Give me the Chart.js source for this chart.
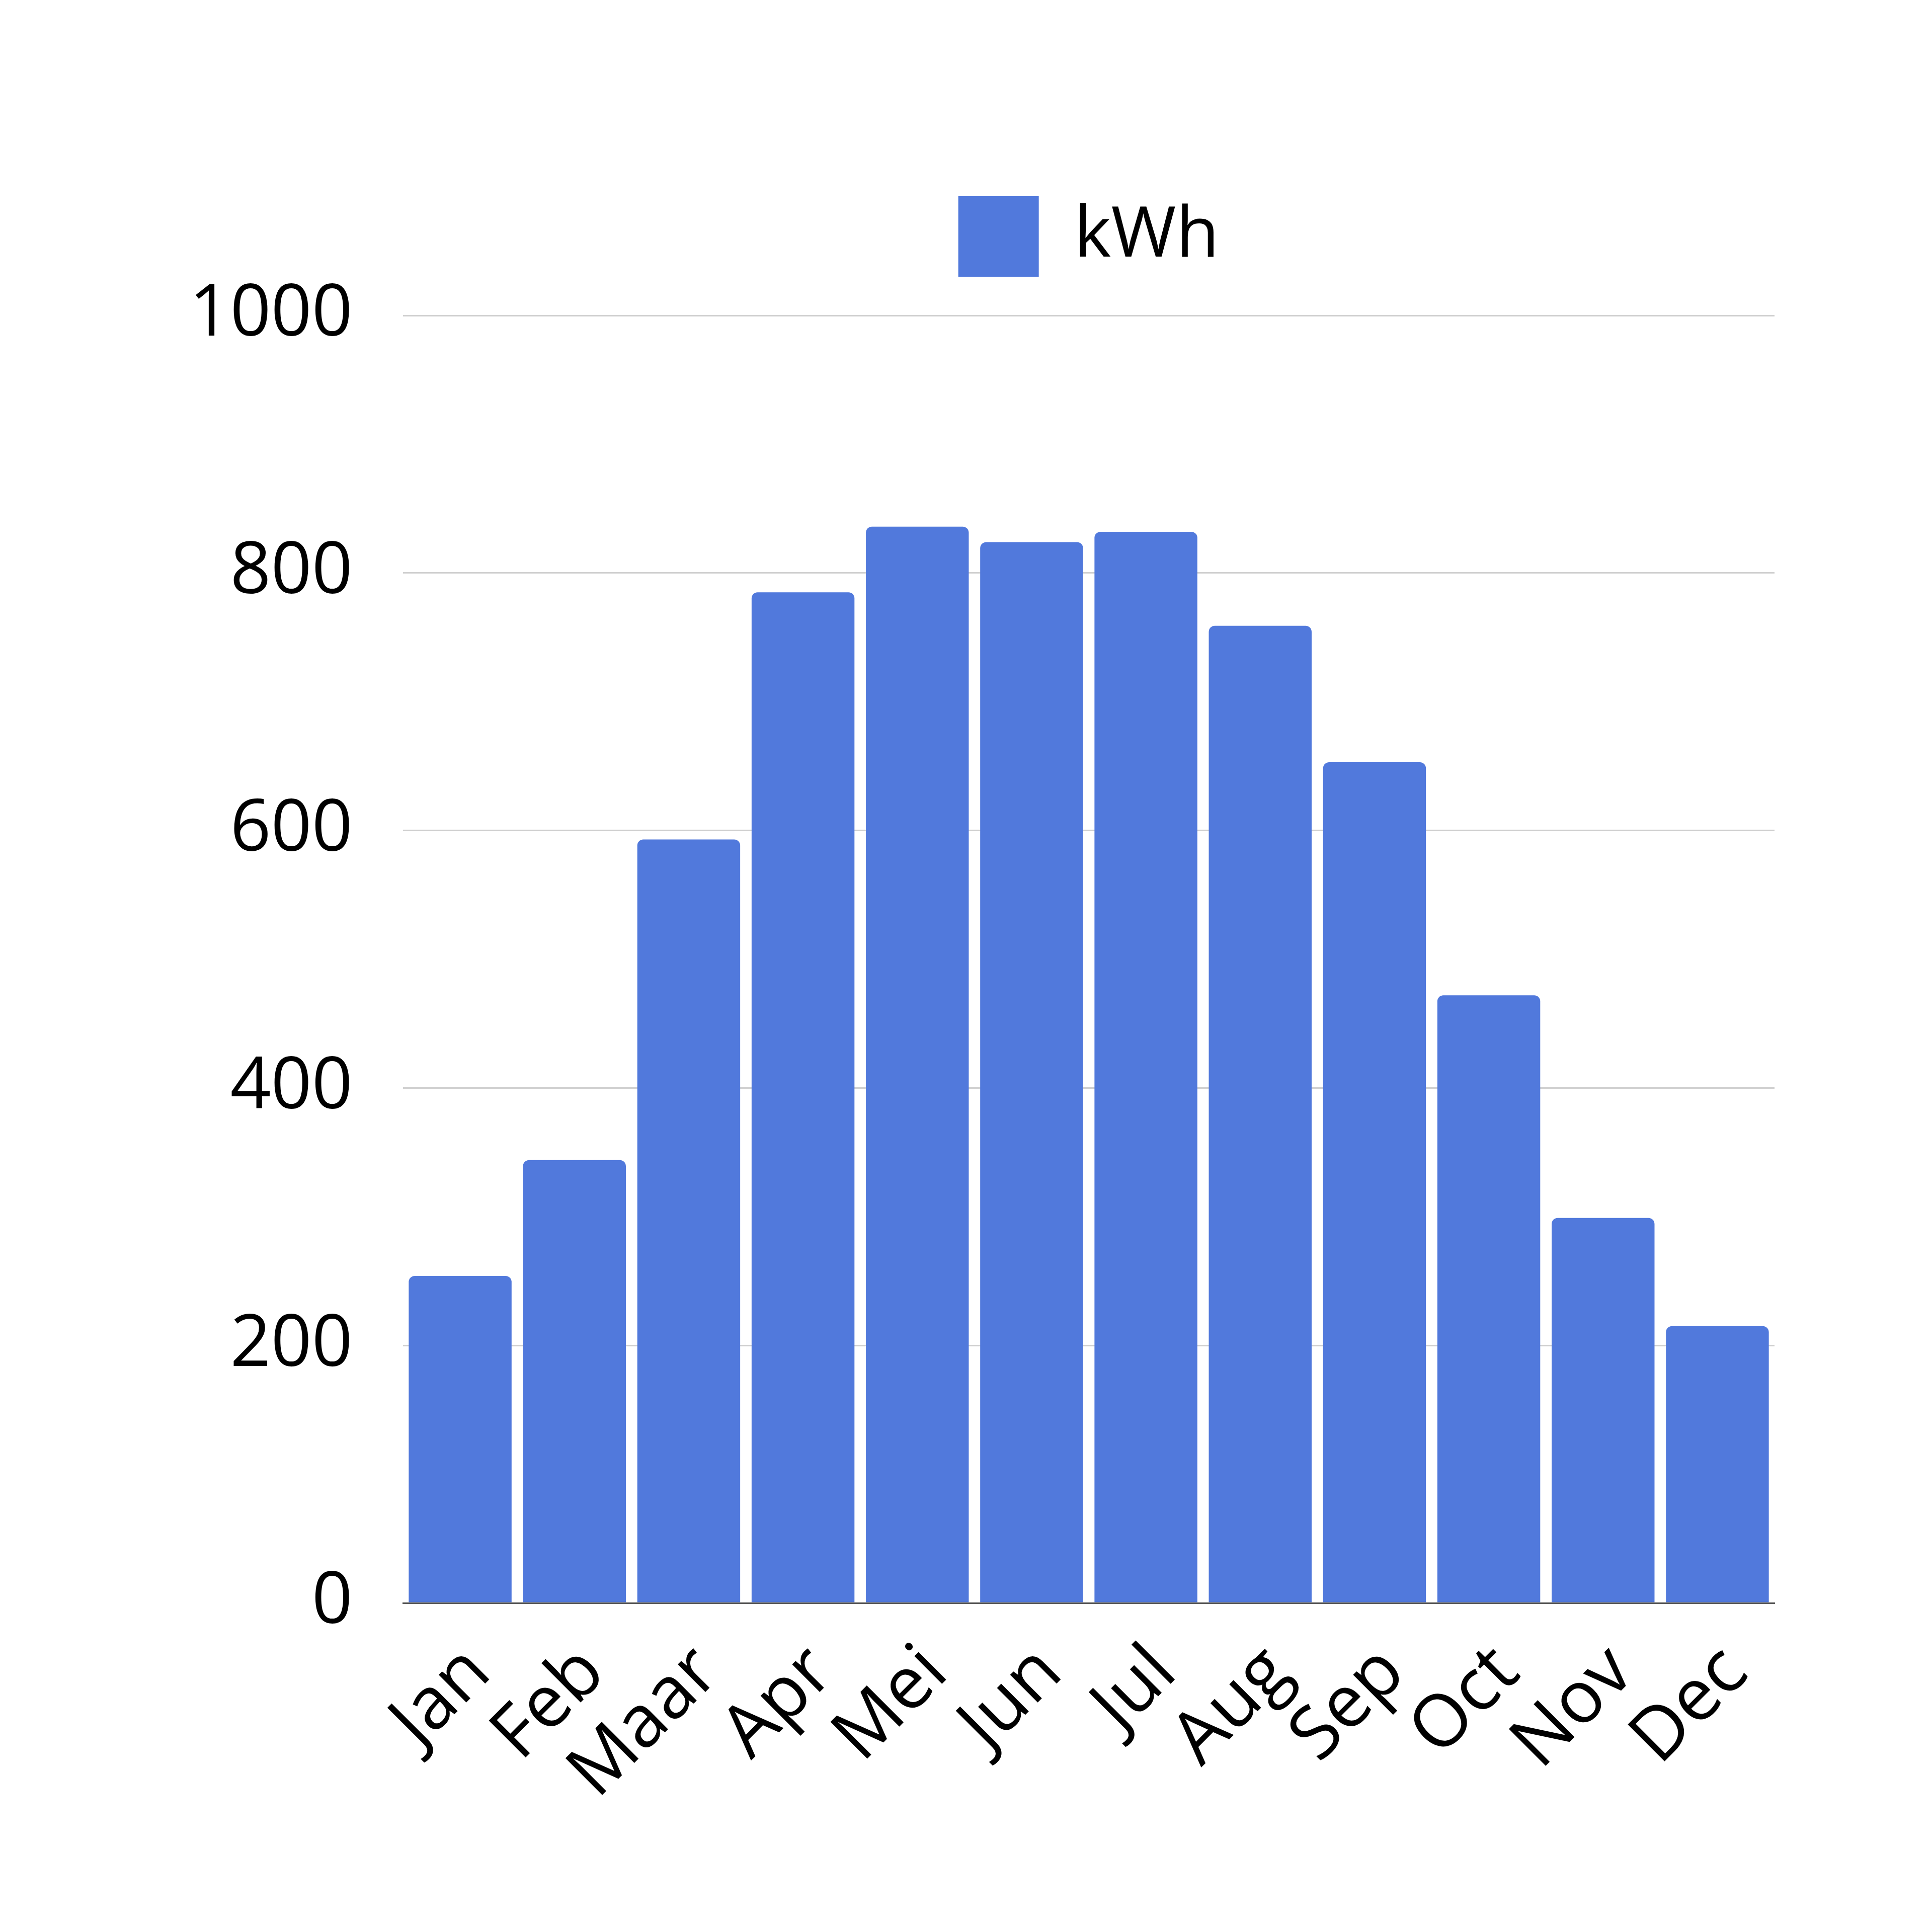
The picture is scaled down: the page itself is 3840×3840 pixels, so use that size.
<!DOCTYPE html>
<html>
<head>
<meta charset="utf-8">
<script src="https://cdn.jsdelivr.net/npm/chart.js@4/dist/chart.umd.min.js"></script>
<style>
  body { margin: 0; background: #fff; }
  canvas { display: block; }
</style>
</head>
<body>
<canvas id="myChart" width="3840" height="3840"></canvas>
<script>
let months = ['Jan', 'Feb', 'Maar', 'Apr', 'Mei', 'Jun', 'Jul', 'Aug', 'Sep', 'Oct', 'Nov', 'Dec'];
let kwh = [254, 344, 593, 785, 836, 824, 832, 759, 653, 472, 299, 215];
let yTicks = [0, 200, 400, 600, 800, 1000];

let fontFamily = "'Open Sans', 'Noto Sans', sans-serif";

// extra room under the legend
let legendGap = {
  id: 'legendGap',
  beforeInit(chart) {
    let origFit = chart.legend.fit;
    chart.legend.fit = function() {
      origFit.bind(chart.legend)();
      this.height += 67;
    };
  }
};

let ctx = document.getElementById('myChart').getContext('2d');

let chart = new Chart(ctx, {
  type: 'bar',
  data: {
    labels: months,
    datasets: [{
      label: 'kWh',
      backgroundColor: 'rgb(81, 121, 220)',
      borderWidth: 0,
      borderRadius: 12,
      barPercentage: 0.9,
      categoryPercentage: 1,
      data: kwh
    }]
  },
  options: {
    responsive: false,
    devicePixelRatio: 1,
    animation: false,
    layout: {
      padding: { top: 283, right: 313, bottom: 0, left: 0 }
    },
    plugins: {
      legend: {
        position: 'top',
        fullSize: false,
        labels: {
          boxWidth: 160,
          boxHeight: 160,
          padding: 107,
          color: '#000',
          font: { family: fontFamily, size: 140 }
        }
      },
      tooltip: { enabled: false }
    },
    scales: {
      x: {
        grid: { display: false },
        border: { display: true, color: '#555', width: 3 },
        ticks: {
          color: '#000',
          autoSkip: false,
          maxRotation: 45,
          minRotation: 45,
          padding: 45,
          labelOffset: 37,
          font: { family: fontFamily, size: 145 }
        },
        afterFit: (scale) => { scale.height = 654; }
      },
      y: {
        min: 0,
        max: 1000,
        afterBuildTicks: (scale) => { scale.ticks = yTicks.map(v => ({ value: v })); },
        grid: { color: '#cfcfcf', lineWidth: 3, drawTicks: false },
        border: { display: false },
        ticks: {
          color: '#000',
          padding: 100,
          font: { family: fontFamily, size: 142 },
          callback: (value) => String(value)
        },
        afterFit: (scale) => { scale.width = 801; }
      }
    }
  },
  plugins: [legendGap]
});
</script>
</body>
</html>
